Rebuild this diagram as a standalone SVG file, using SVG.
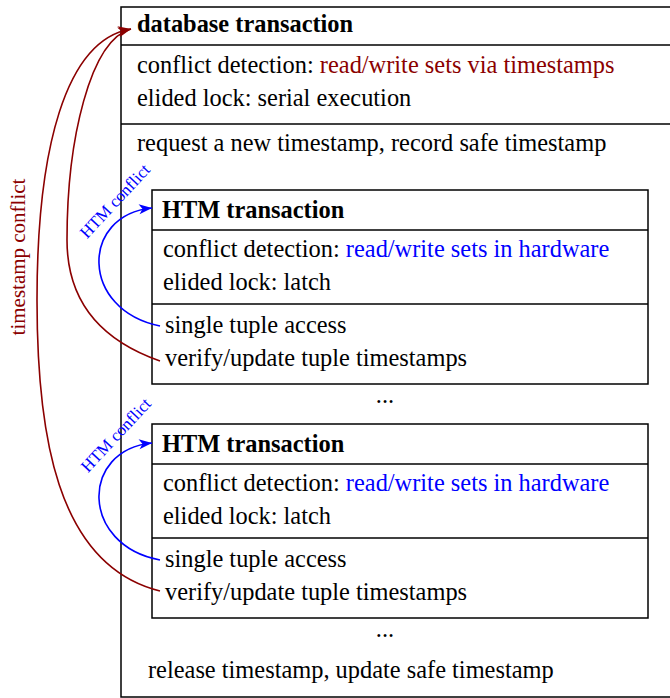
<svg xmlns="http://www.w3.org/2000/svg" width="670" height="698" viewBox="0 0 670 698">
<style>
text{font-family:"Liberation Serif","Times New Roman",serif;font-size:24.4px;fill:#000}
.b{font-weight:bold}
.red{fill:#8b0000}
.blue{fill:#0000ff}
.box{fill:none;stroke:#000;stroke-width:1.5}
.rc{fill:none;stroke:#8b0000;stroke-width:1.6}
.bc{fill:none;stroke:#0000ff;stroke-width:1.6}
.lbl{font-size:17px}
</style>
<defs>
<marker id="ar" markerUnits="userSpaceOnUse" markerWidth="14" markerHeight="12" refX="13" refY="5" orient="auto" overflow="visible">
<path d="M0,0 L13,5 L0,10 L3.5,5 z" fill="#8b0000"/>
</marker>
<marker id="ab" markerUnits="userSpaceOnUse" markerWidth="14" markerHeight="12" refX="13" refY="5" orient="auto" overflow="visible">
<path d="M0,0 L13,5 L0,10 L3.5,5 z" fill="#0000ff"/>
</marker>
</defs>
<g id="db">
<rect class="box" x="121" y="7" width="600" height="690"/>
<line class="box" x1="121" y1="45" x2="670" y2="45"/>
<line class="box" x1="121" y1="124" x2="670" y2="124"/>
<text class="b" x="137" y="32">database transaction</text>
<text x="137" y="73">conflict detection: <tspan class="red">read/write sets via timestamps</tspan></text>
<text x="137" y="106">elided lock: serial execution</text>
<text x="137" y="151">request a new timestamp, record safe timestamp</text>
<text x="385" y="403" text-anchor="middle">...</text>
<text x="385" y="637" text-anchor="middle">...</text>
<text x="148" y="678">release timestamp, update safe timestamp</text>
</g>
<g id="htm1">
<rect class="box" x="152" y="190" width="496" height="194"/>
<line class="box" x1="152" y1="230" x2="648" y2="230"/>
<line class="box" x1="152" y1="304" x2="648" y2="304"/>
<text class="b" x="162" y="218">HTM transaction</text>
<text x="163" y="257">conflict detection: <tspan class="blue">read/write sets in hardware</tspan></text>
<text x="163" y="290">elided lock: latch</text>
<text x="165" y="333">single tuple access</text>
<text x="165" y="366">verify/update tuple timestamps</text>
</g>
<g id="htm2">
<rect class="box" x="152" y="424" width="496" height="194"/>
<line class="box" x1="152" y1="464" x2="648" y2="464"/>
<line class="box" x1="152" y1="538" x2="648" y2="538"/>
<text class="b" x="162" y="452">HTM transaction</text>
<text x="163" y="491">conflict detection: <tspan class="blue">read/write sets in hardware</tspan></text>
<text x="163" y="524">elided lock: latch</text>
<text x="165" y="567">single tuple access</text>
<text x="165" y="600">verify/update tuple timestamps</text>
</g>
<g id="connectors">
<path class="rc" d="M160,361 C100,340 67,300 67,240 C67,140 90,40 131,29" marker-end="url(#ar)"/>
<path class="rc" d="M160,591 C55,565 37,430 37,300 C37,150 65,40 131,29" marker-end="url(#ar)"/>
<path class="bc" d="M160,326 C80,310 80,215 152,208" marker-end="url(#ab)"/>
<path class="bc" d="M160,560 C80,545 80,450 152,443" marker-end="url(#ab)"/>
<text class="red" style="font-size:21px" transform="translate(25,257) rotate(-90)" text-anchor="middle">timestamp conflict</text>
<text class="blue lbl" transform="translate(119,205) rotate(-47)" text-anchor="middle">HTM conflict</text>
<text class="blue lbl" transform="translate(120,439) rotate(-47)" text-anchor="middle">HTM conflict</text>
</g>
</svg>
